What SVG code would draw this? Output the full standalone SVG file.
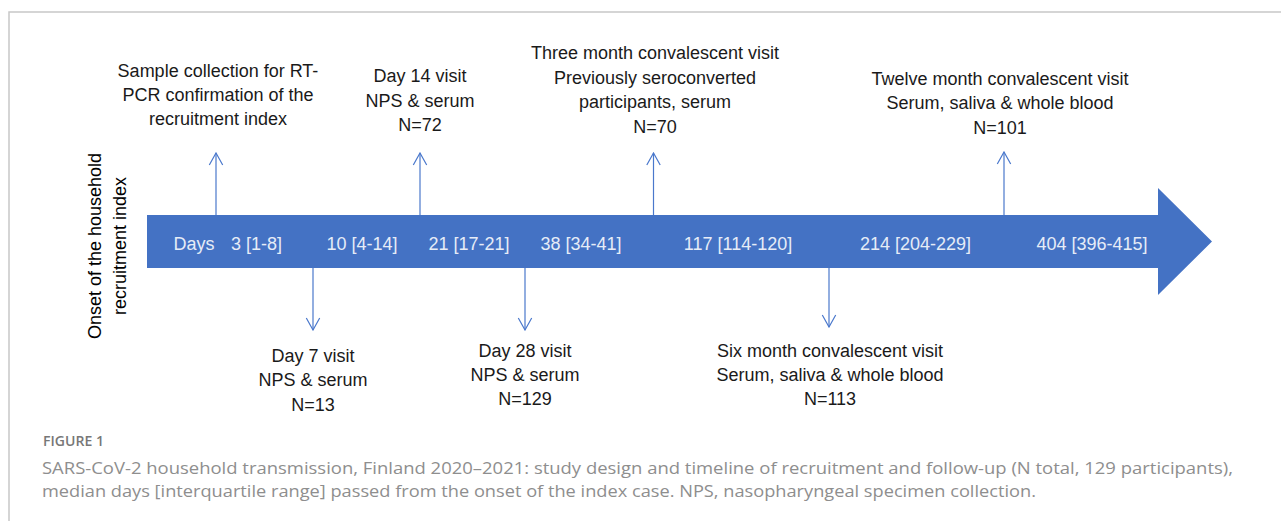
<svg xmlns="http://www.w3.org/2000/svg" width="1281" height="521" viewBox="0 0 1281 521">
<defs>
<style>
.lbl{font-family:"Liberation Sans",Arial,sans-serif;font-size:18px;fill:#1a1a1a;text-anchor:middle}
.bar{font-family:"Liberation Sans",Arial,sans-serif;font-size:18px;fill:#e6ecf7;text-anchor:middle}
.conn{stroke:#4a78cc;stroke-width:1.2;fill:none;marker-end:url(#chev)}
.cap{font-family:"Open Sans","Noto Sans",sans-serif;font-size:16.5px;fill:#8e8e8e}
.fig{font-family:"Open Sans","Noto Sans",sans-serif;font-size:13.5px;font-weight:600;fill:#777}
</style>
<marker id="chev" viewBox="-14 -8 15 16" markerWidth="15" markerHeight="16" refX="0" refY="0" orient="auto" markerUnits="userSpaceOnUse">
<path d="M-12,-6.7 L0,0 L-12,6.7" fill="none" stroke="#4a78cc" stroke-width="1.2"/>
</marker>
</defs>
<rect width="1281" height="521" fill="#fff"/>
<path d="M9,521 V12 H1281" fill="none" stroke="#c8c8c8" stroke-width="1.5"/>

<g id="timeline">
<polygon points="147,215 1158,215 1158,188 1212,241.5 1158,295 1158,268 147,268" fill="#4472c4"/>
<text class="bar" x="194" y="250">Days</text>
<text class="bar" x="256.5" y="250">3 [1-8]</text>
<text class="bar" x="362" y="250">10 [4-14]</text>
<text class="bar" x="469" y="250">21 [17-21]</text>
<text class="bar" x="581" y="250">38 [34-41]</text>
<text class="bar" x="738" y="250">117 [114-120]</text>
<text class="bar" x="915.5" y="250">214 [204-229]</text>
<text class="bar" x="1092" y="250">404 [396-415]</text>
</g>

<g id="onset">
<text class="lbl" transform="translate(101,246) rotate(-90)" style="fill:#000">Onset of the household</text>
<text class="lbl" transform="translate(126,246) rotate(-90)" style="fill:#000">recruitment index</text>
</g>

<g id="connectors">
<line class="conn" x1="216" y1="215" x2="216" y2="153"/>
<line class="conn" x1="420" y1="215" x2="420" y2="153"/>
<line class="conn" x1="653.5" y1="215" x2="653.5" y2="153"/>
<line class="conn" x1="1004" y1="215" x2="1004" y2="152"/>
<line class="conn" x1="313" y1="268" x2="313" y2="330"/>
<line class="conn" x1="525" y1="268" x2="525" y2="330"/>
<line class="conn" x1="829" y1="268" x2="829" y2="327"/>
</g>

<g id="sample">
<text class="lbl" x="218" y="77">Sample collection for RT-</text>
<text class="lbl" x="218" y="101">PCR confirmation of the</text>
<text class="lbl" x="218" y="125">recruitment index</text>
</g>
<g id="day14">
<text class="lbl" x="420" y="82">Day 14 visit</text>
<text class="lbl" x="420" y="107">NPS &amp; serum</text>
<text class="lbl" x="420" y="131">N=72</text>
</g>
<g id="month3">
<text class="lbl" x="655" y="59">Three month convalescent visit</text>
<text class="lbl" x="655" y="84">Previously seroconverted</text>
<text class="lbl" x="655" y="108">participants, serum</text>
<text class="lbl" x="655" y="133">N=70</text>
</g>
<g id="month12">
<text class="lbl" x="1000" y="85">Twelve month convalescent visit</text>
<text class="lbl" x="1000" y="109">Serum, saliva &amp; whole blood</text>
<text class="lbl" x="1000" y="134">N=101</text>
</g>
<g id="day7">
<text class="lbl" x="313" y="362">Day 7 visit</text>
<text class="lbl" x="313" y="386">NPS &amp; serum</text>
<text class="lbl" x="313" y="411">N=13</text>
</g>
<g id="day28">
<text class="lbl" x="525" y="357">Day 28 visit</text>
<text class="lbl" x="525" y="381">NPS &amp; serum</text>
<text class="lbl" x="525" y="405">N=129</text>
</g>
<g id="month6">
<text class="lbl" x="830" y="357">Six month convalescent visit</text>
<text class="lbl" x="830" y="381">Serum, saliva &amp; whole blood</text>
<text class="lbl" x="830" y="405">N=113</text>
</g>

<g id="caption">
<text class="fig" x="43" y="446" textLength="61" lengthAdjust="spacingAndGlyphs">FIGURE 1</text>
<text class="cap" x="42" y="474" textLength="1191" lengthAdjust="spacingAndGlyphs">SARS-CoV-2 household transmission, Finland 2020–2021: study design and timeline of recruitment and follow-up (N total, 129 participants),</text>
<text class="cap" x="42" y="497" textLength="994" lengthAdjust="spacingAndGlyphs">median days [interquartile range] passed from the onset of the index case. NPS, nasopharyngeal specimen collection.</text>
</g>
</svg>
